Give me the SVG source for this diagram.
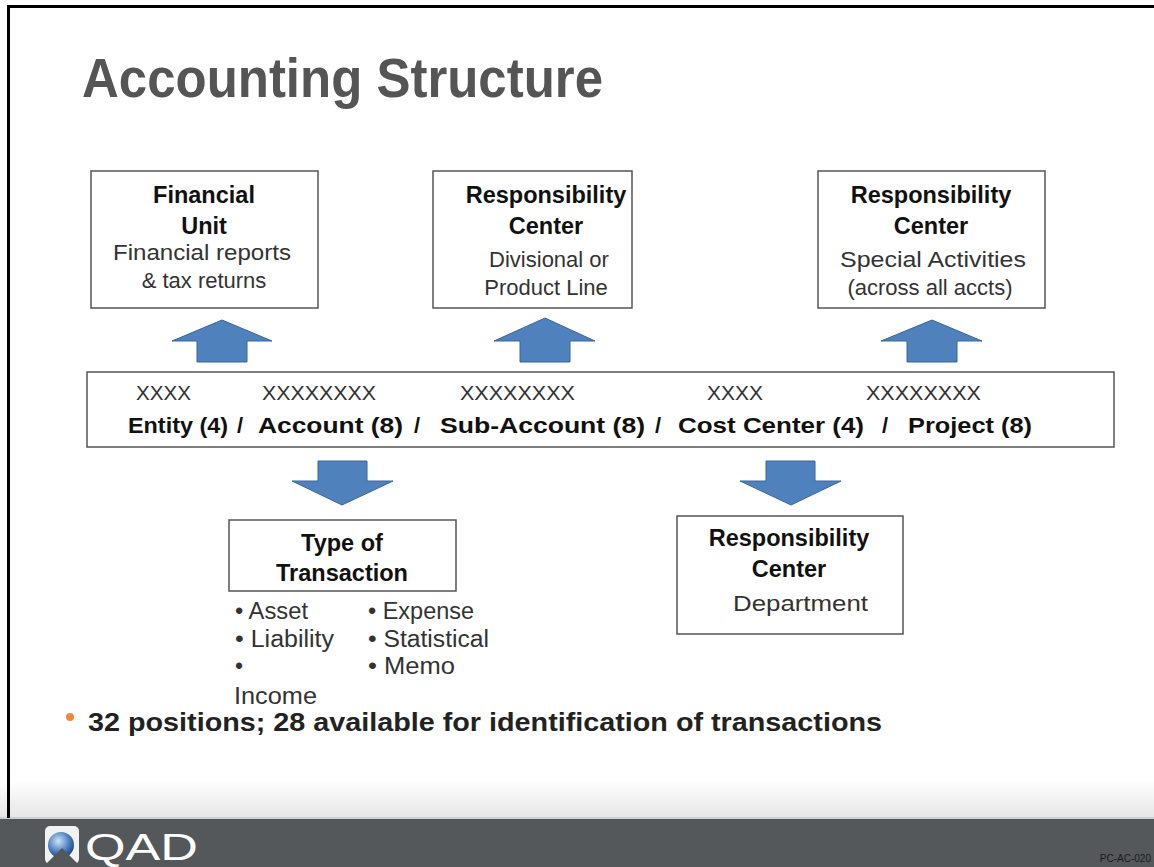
<svg xmlns="http://www.w3.org/2000/svg" width="1154" height="867" viewBox="0 0 1154 867">
<defs>
<style>
.box{fill:#fff;stroke:#555;stroke-width:1.5}
.arr{fill:#4F81BD;stroke:#3A6599;stroke-width:1}
.b{font-family:"Liberation Sans",Arial,sans-serif;font-weight:bold;fill:#111;font-size:23.5px}
.r{font-family:"Liberation Sans",Arial,sans-serif;fill:#333;font-size:22px}
.x{font-family:"Liberation Sans",Arial,sans-serif;fill:#333;font-size:21px}
.l{font-family:"Liberation Sans",Arial,sans-serif;fill:#333;font-size:23px}
.m{font-family:"Liberation Sans",Arial,sans-serif;font-weight:bold;fill:#111;font-size:22px}
.c{text-anchor:middle}
</style>
<linearGradient id="fade" x1="0" y1="0" x2="0" y2="1">
<stop offset="0" stop-color="#ffffff"/>
<stop offset="1" stop-color="#e6e6e6"/>
</linearGradient>
<radialGradient id="orb" cx="0.4" cy="0.35" r="0.7">
<stop offset="0" stop-color="#cfe3f7"/>
<stop offset="0.6" stop-color="#4a7fc0"/>
<stop offset="1" stop-color="#1d3f73"/>
</radialGradient>
</defs>
<rect width="1154" height="867" fill="#fff"/>
<!-- footer -->
<rect x="0" y="780" width="1154" height="38" fill="url(#fade)"/>
<rect x="0" y="817" width="1154" height="2" fill="#cfcfcf"/>
<rect x="0" y="819" width="1154" height="48" fill="#55585a"/>
<g id="logo">
<rect x="45" y="826" width="34" height="38" rx="5" fill="#f2f2f2"/>
<circle cx="61" cy="845" r="13" fill="url(#orb)"/>
<polygon points="46,864 62,848 78,864" fill="#55585a"/>
<text x="85" y="860" font-family="Liberation Sans,Arial,sans-serif" font-size="36" fill="#fff" textLength="113" lengthAdjust="spacingAndGlyphs">QAD</text>
</g>
<text x="1151" y="862" text-anchor="end" font-family="Liberation Sans,Arial,sans-serif" font-size="10" fill="#1a1a1a">PC-AC-020</text>
<!-- frame -->
<line x1="8.5" y1="5" x2="8.5" y2="818" stroke="#000" stroke-width="3"/>
<line x1="7" y1="6.5" x2="1154" y2="6.5" stroke="#000" stroke-width="3"/>
<!-- title -->
<text x="82" y="97" font-family="Liberation Sans,Arial,sans-serif" font-weight="bold" font-size="56" fill="#555" textLength="521" lengthAdjust="spacingAndGlyphs">Accounting Structure</text>

<g id="connectors">
<polygon class="arr" points="197,362 197,341 172,341 222,320 272,341 247,341 247,362"/>
<polygon class="arr" points="520,362 520,341 494,341 545,318 595,341 570,341 570,362"/>
<polygon class="arr" points="907,362 907,341 881,341 932,320 982,341 957,341 957,362"/>
<polygon class="arr" points="318,461 367,461 367,481 393,481 342,505 292,481 318,481"/>
<polygon class="arr" points="766,461 815,461 815,481 841,481 791,505 740,481 766,481"/>
</g>

<g id="financial-unit">
<rect class="box" x="91" y="171" width="227" height="137"/>
<text class="b c" x="204" y="203">Financial</text>
<text class="b c" x="204" y="234">Unit</text>
<text class="r c" x="202" y="260" textLength="178" lengthAdjust="spacingAndGlyphs">Financial reports</text>
<text class="r c" x="204" y="288">&amp; tax returns</text>
</g>

<g id="resp-divisional">
<rect class="box" x="433" y="171" width="199" height="137"/>
<text class="b c" x="546" y="203">Responsibility</text>
<text class="b c" x="546" y="234">Center</text>
<text class="r c" x="549" y="267">Divisional or</text>
<text class="r c" x="546" y="295">Product Line</text>
</g>

<g id="resp-special">
<rect class="box" x="818" y="171" width="227" height="137"/>
<text class="b c" x="931" y="203">Responsibility</text>
<text class="b c" x="931" y="234">Center</text>
<text class="r c" x="933" y="267" textLength="186" lengthAdjust="spacingAndGlyphs">Special Activities</text>
<text class="r c" x="930" y="295">(across all accts)</text>
</g>

<g id="account-string">
<rect class="box" x="87" y="372" width="1027" height="75"/>
<text class="x" x="136" y="400" textLength="55" lengthAdjust="spacingAndGlyphs">XXXX</text>
<text class="x" x="262" y="400" textLength="114" lengthAdjust="spacingAndGlyphs">XXXXXXXX</text>
<text class="x" x="460" y="400" textLength="115" lengthAdjust="spacingAndGlyphs">XXXXXXXX</text>
<text class="x" x="707" y="400" textLength="56" lengthAdjust="spacingAndGlyphs">XXXX</text>
<text class="x" x="866" y="400" textLength="115" lengthAdjust="spacingAndGlyphs">XXXXXXXX</text>
<text class="m" x="128" y="433" textLength="100" lengthAdjust="spacingAndGlyphs">Entity (4)</text>
<text class="m" x="237" y="433">/</text>
<text class="m" x="258" y="433" textLength="145" lengthAdjust="spacingAndGlyphs">Account (8)</text>
<text class="m" x="414" y="433">/</text>
<text class="m" x="440" y="433" textLength="205" lengthAdjust="spacingAndGlyphs">Sub-Account (8)</text>
<text class="m" x="655" y="433">/</text>
<text class="m" x="678" y="433" textLength="186" lengthAdjust="spacingAndGlyphs">Cost Center (4)</text>
<text class="m" x="882" y="433">/</text>
<text class="m" x="908" y="433" textLength="124" lengthAdjust="spacingAndGlyphs">Project (8)</text>
</g>

<g id="type-of-transaction">
<rect class="box" x="229" y="520" width="227" height="71"/>
<text class="b c" x="342" y="551">Type of</text>
<text class="b c" x="342" y="581">Transaction</text>
<text class="l" x="235" y="619" textLength="73" lengthAdjust="spacingAndGlyphs">• Asset</text>
<text class="l" x="235" y="647" textLength="99" lengthAdjust="spacingAndGlyphs">• Liability</text>
<text class="l" x="235" y="674">•</text>
<text class="l" x="234" y="704" textLength="83" lengthAdjust="spacingAndGlyphs">Income</text>
<text class="l" x="368" y="619" textLength="106" lengthAdjust="spacingAndGlyphs">• Expense</text>
<text class="l" x="368" y="647" textLength="121" lengthAdjust="spacingAndGlyphs">• Statistical</text>
<text class="l" x="368" y="674" textLength="87" lengthAdjust="spacingAndGlyphs">• Memo</text>
</g>

<g id="resp-department">
<rect class="box" x="677" y="516" width="226" height="118"/>
<text class="b c" x="789" y="546">Responsibility</text>
<text class="b c" x="789" y="577">Center</text>
<text class="r" x="733" y="611" textLength="135" lengthAdjust="spacingAndGlyphs">Department</text>
</g>

<g id="note">
<circle cx="70" cy="717" r="4" fill="#f0883a"/>
<text x="88" y="731" font-family="Liberation Sans,Arial,sans-serif" font-weight="bold" font-size="25" fill="#222" textLength="794" lengthAdjust="spacingAndGlyphs">32 positions; 28 available for identification of transactions</text>
</g>
</svg>
